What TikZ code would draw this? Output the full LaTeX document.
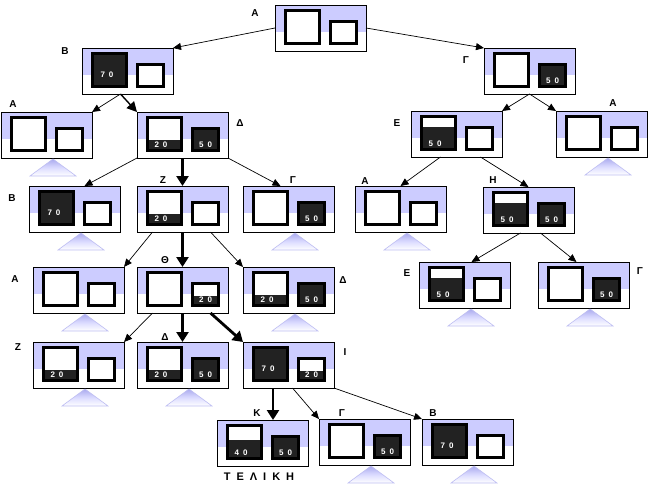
\documentclass[tikz,border=0pt]{standalone}
\usepackage{fontspec}
\setmainfont{Liberation Sans}
\usetikzlibrary{arrows.meta,calc}
\definecolor{lav}{RGB}{204,204,255}
\definecolor{jdark}{RGB}{34,34,34}
\definecolor{trilav}{RGB}{170,170,238}
\definecolor{triedge}{RGB}{190,190,242}
\newcommand\spdig[2]{#1\hspace{4pt}#2}
\tikzset{
  stbox/.style={draw=black, line width=0.8pt, minimum width=91pt, minimum height=46pt, inner sep=0pt, outer sep=0pt},
  jugline/.style={draw=black, line width=3pt},
  numtxt/.style={text=white, font=\fontsize{8}{8}\selectfont\bfseries, inner sep=0pt},
  lbl/.style={font=\fontsize{10}{10}\selectfont\bfseries, inner sep=0pt},
  thinarr/.style={draw=black, line width=0.7pt, -{Triangle[length=8pt,width=7pt]}},
  medarr/.style={draw=black, line width=1.4pt, -{Triangle[length=10pt,width=10pt]}},
  thickarr/.style={draw=black, line width=2.8pt, -{Triangle[length=10pt,width=12pt]}},
  leaftri/.style={top color=trilav, bottom color=white, middle color=lav!70, draw=triedge, line width=0.6pt}
}
\newcommand\jugstate[5]{%
  \fill[lav] (#2,#3) rectangle ++(91,27);
  \node[stbox] (#1) at (#2+45.5,#3+23) {};
  \fill[white] (#2+12,#3+7) rectangle (#2+43,#3+37);
  \pgfmathsetmacro\bh{#4/70*30}%
  \ifnum#4>0 \fill[jdark] (#2+12,#3+37-\bh) rectangle (#2+43,#3+37);\fi
  \draw[jugline] (#2+10.5,#3+5.5) rectangle (#2+44.5,#3+38.5);
  \ifnum#4=70 \node[numtxt] (#1b) at (#2+25,#3+27) {\spdig70};%
  \else\ifnum#4>0 \node[numtxt] (#1b) at (#2+24,#3+33) {\spdig#4};\fi\fi
  \fill[white] (#2+57,#3+18) rectangle (#2+80,#3+37);
  \pgfmathsetmacro\sh{#5/50*19}%
  \ifnum#5>0 \fill[jdark] (#2+57,#3+37-\sh) rectangle (#2+80,#3+37);\fi
  \draw[jugline] (#2+55.5,#3+16.5) rectangle (#2+81.5,#3+38.5);
  \ifnum#5>0 \node[numtxt] (#1s) at (#2+68.5,#3+33) {\spdig#5};\fi
}
\newcommand\leaf[2]{%
  \shade[leaftri] (#1+52,#2+47) -- (#1+75,#2+64) -- (#1+29,#2+64) -- cycle;
}
\begin{document}
\begin{tikzpicture}[x=1pt,y=-1pt]
\useasboundingbox[fill=white] (0,0) rectangle (654,490);
% states
\jugstate{A0}{275}{5}{0}{0}
\jugstate{B1}{82}{48}{70}{0}
\jugstate{G1}{484}{48}{0}{50}
\jugstate{A2L}{1}{112}{0}{0}
\jugstate{D2}{137}{112}{20}{50}
\jugstate{E2}{411}{111}{50}{0}
\jugstate{A2R}{556}{111}{0}{0}
\jugstate{B3}{29}{186}{70}{0}
\jugstate{Z3}{137}{186}{20}{0}
\jugstate{G3}{243}{186}{0}{50}
\jugstate{A3}{355}{186}{0}{0}
\jugstate{H3}{483}{187}{50}{50}
\jugstate{A4}{33}{267}{0}{0}
\jugstate{T4}{137}{267}{0}{20}
\jugstate{D4}{243}{267}{20}{50}
\jugstate{E4}{419}{262}{50}{0}
\jugstate{G4}{538}{262}{0}{50}
\jugstate{Z5}{33}{342}{20}{0}
\jugstate{D5}{137}{342}{20}{50}
\jugstate{I5}{243}{342}{70}{20}
\jugstate{K6}{217}{420}{40}{50}
\jugstate{G6}{319}{419}{0}{50}
\jugstate{B6}{422}{419}{70}{0}
% leaf markers
\leaf{1}{112}
\leaf{556}{111}
\leaf{29}{186}
\leaf{243}{186}
\leaf{355}{186}
\leaf{33}{267}
\leaf{243}{267}
\leaf{419}{262}
\leaf{538}{262}
\leaf{33}{342}
\leaf{137}{342}
\leaf{319}{419}
\leaf{422}{419}
% labels
\node[lbl] (lA0) at (255,13) {Α};
\node[lbl] (lB1) at (65,51) {Β};
\node[lbl] (lG1) at (466,60) {Γ};
\node[lbl] (lA2L) at (13,104) {Α};
\node[lbl] (lD2) at (240,123) {Δ};
\node[lbl] (lE2) at (397,123) {Ε};
\node[lbl] (lA2R) at (613,103) {Α};
\node[lbl] (lB3) at (12,198) {Β};
\node[lbl] (lZ3) at (163,180) {Ζ};
\node[lbl] (lG3) at (293,180) {Γ};
\node[lbl] (lA3) at (365,181) {Α};
\node[lbl] (lH3) at (493,180) {Η};
\node[lbl] (lA4) at (15,279) {Α};
\node[lbl] (lT4) at (165,260) {Θ};
\node[lbl] (lD4) at (343,280) {Δ};
\node[lbl] (lE4) at (407,273) {Ε};
\node[lbl] (lG4) at (640,271) {Γ};
\node[lbl] (lZ5) at (18,347) {Ζ};
\node[lbl] (lD5) at (165,337) {Δ};
\node[lbl] (lI5) at (345,352) {Ι};
\node[lbl] (lK6) at (257,413) {Κ};
\node[lbl] (lG6) at (342,413) {Γ};
\node[lbl] (lB6) at (433,413) {Β};
\node[font=\fontsize{11}{12}\selectfont\bfseries, inner sep=0pt] (final) at (259,477)
  {Τ\hspace{6pt}Ε\hspace{6pt}Λ\hspace{6pt}Ι\hspace{6pt}Κ\hspace{6pt}Η};
% connectors
\draw[thinarr] (A0.west) -- (B1.north east);
\draw[thinarr] (A0.east) -- (G1.north west);
\draw[thinarr] ($(B1.south)+(-7,0)$) -- (A2L.north east);
\draw[medarr] ($(B1.south)+(-7,0)$) -- (D2.north west);
\draw[thinarr] (G1.south) -- (E2.north east);
\draw[thinarr] (G1.south) -- (A2R.north west);
\draw[thinarr] (D2.south west) -- ($(B3.north)+(10,0)$);
\draw[thickarr] (D2.south) -- (Z3.north);
\draw[thinarr] (D2.south east) -- ($(G3.north)+(-8,0)$);
\draw[thinarr] ($(E2.south)+(-16,0)$) -- (A3.north);
\draw[thinarr] ($(E2.south)+(24,0)$) -- (H3.north);
\draw[thinarr] ($(Z3.south)+(-30,0)$) -- (A4.north east);
\draw[thickarr] (Z3.south) -- (T4.north);
\draw[thinarr] ($(Z3.south)+(28,0)$) -- (D4.north west);
\draw[thinarr] ($(H3.south)+(-8,0)$) -- ($(E4.north)+(7,0)$);
\draw[thinarr] ($(H3.south)+(12,0)$) -- ($(G4.north)+(-7,0)$);
\draw[thinarr] ($(T4.south)+(-30,0)$) -- (Z5.north east);
\draw[thickarr] (T4.south) -- (D5.north);
\draw[thickarr] ($(T4.south)+(28,0)$) -- (I5.north west);
\draw[thickarr] ($(I5.south)+(-15.5,0)$) -- ($(K6.north)+(10.5,0)$);
\draw[thinarr] ($(I5.south)+(4,0)$) -- (G6.north west);
\draw[thinarr] (I5.south east) -- (B6.north west);
\end{tikzpicture}
\end{document}
